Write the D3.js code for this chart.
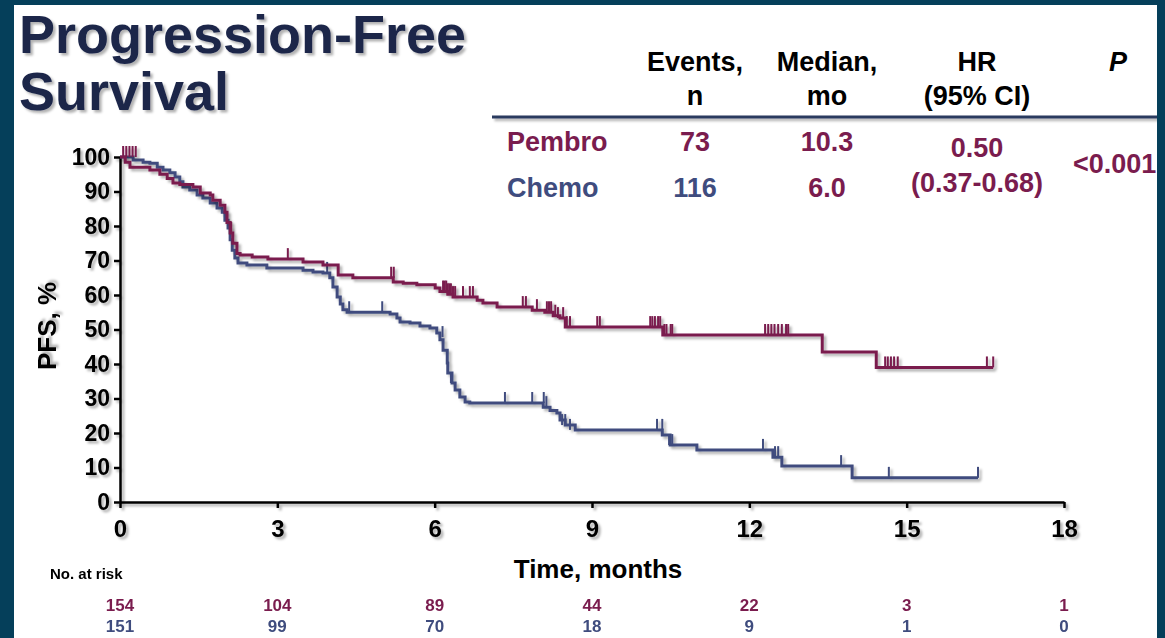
<!DOCTYPE html>
<html>
<head>
<meta charset="utf-8">
<script src="https://cdn.jsdelivr.net/npm/d3@7"></script>
<style>
  body { margin: 0; background: #ffffff; }
  svg { display: block; font-family: "Liberation Sans", Arial, sans-serif; font-weight: bold; }
</style>
</head>
<body>
<svg id="chart" width="1165" height="638"></svg>
<script>
// ---- data ----
var months = [0, 3, 6, 9, 12, 15, 18];
var pctTicks = [0, 10, 20, 30, 40, 50, 60, 70, 80, 90, 100];

// [time in months, PFS % after the step]
var pembroSteps = [[0,100],[0.10,98.5],[0.19,97],[0.57,96.2],[0.76,95],[0.90,93.8],[1.01,92.5],[1.14,92],
  [1.39,91.3],[1.53,89.6],[1.72,89],[1.77,87.5],[1.91,86],[2.00,84],[2.04,81],[2.10,78],[2.15,75],
  [2.23,72],[2.29,71.6],[2.52,71],[2.82,70.4],[3.49,69.6],[3.87,68.7],[4.16,65.8],[4.44,65],
  [5.21,63.8],[5.40,63.4],[5.66,63],[6.01,62],[6.10,61],[6.25,60.2],[6.35,59.4],[6.81,58.5],
  [6.92,57.7],[7.19,56.5],[7.86,55.6],[8.10,55],[8.26,54],[8.39,53.3],[8.49,50.7],[10.35,48.4],
  [13.39,43.5],[14.42,39],[16.65,39]];
var chemoSteps = [[0,100],[0.25,99.1],[0.44,98.5],[0.57,98.2],[0.71,97],[0.82,96.2],[0.95,95.4],
  [1.05,94.2],[1.14,92.8],[1.20,91.3],[1.33,90.4],[1.47,89],[1.58,88.1],[1.72,86.7],[1.85,85.2],
  [1.95,84],[2.00,81.7],[2.06,79.4],[2.10,76],[2.14,73],[2.19,70.7],[2.25,69.3],[2.42,68.7],
  [2.80,67.8],[3.49,67.2],[3.68,66.7],[3.87,66.4],[4.00,65],[4.06,62.3],[4.14,59.4],[4.20,57.4],
  [4.25,55.7],[4.33,55],[5.15,54.5],[5.28,53.3],[5.34,52.2],[5.53,51.9],[5.72,51],[5.91,50.4],
  [6.04,49],[6.10,47],[6.16,44],[6.24,40.3],[6.25,37.4],[6.33,34.5],[6.39,32.5],[6.48,30.4],
  [6.58,29],[6.67,28.7],[8.07,27.5],[8.20,26.5],[8.33,25.8],[8.39,23.8],[8.49,22.3],[8.68,20.9],
  [10.34,19.4],[10.49,16.5],[11.00,15.1],[12.45,13],[12.62,10.4],[13.96,7],[16.36,7]];

// censored patients [time, PFS %]
var pembroCensor = [[0.06,100],[0.12,100],[0.18,100],[0.24,100],[0.30,100],[2.12,78],[3.20,70.4],
  [5.17,65],[5.22,65],[6.16,61],[6.19,61],[6.22,61],[6.25,60.2],[6.28,60.2],[6.31,60.2],[6.35,59.4],
  [6.39,59.4],[6.54,59.4],[6.67,59.4],[6.73,59.4],[7.68,56.5],[7.74,56.5],[7.95,55.6],[8.14,55],
  [8.18,55],[8.22,55],[8.30,54],[8.35,53.3],[8.45,53.3],[8.52,50.7],[8.58,50.7],[9.10,50.7],
  [9.15,50.7],[10.11,50.7],[10.15,50.7],[10.20,50.7],[10.26,50.7],[10.30,50.7],[10.38,48.4],
  [10.42,48.4],[10.50,48.4],[10.53,48.4],[12.30,48.4],[12.36,48.4],[12.42,48.4],[12.48,48.4],
  [12.55,48.4],[12.62,48.4],[12.70,48.4],[12.74,48.4],[14.59,39],[14.64,39],[14.70,39],[14.76,39],
  [14.83,39],[16.53,39],[16.65,39]];
var chemoCensor = [[3.95,66.4],[4.37,55],[5.00,55],[6.15,47.8],[6.31,34.5],[7.34,28.7],[7.86,28.7],
  [8.08,28.7],[8.13,27.5],[8.43,22.3],[8.49,22.3],[8.58,20.9],[10.24,20.9],[10.34,20.9],
  [10.47,16.5],[10.53,16.5],[12.26,15.1],[12.49,13],[12.55,13],[13.75,10.4],[14.66,7],[16.36,7]];

var riskPembro = [154, 104, 89, 44, 22, 3, 1];
var riskChemo = [151, 99, 70, 18, 9, 1, 0];

var tableHeads = [["Events,", "n"], ["Median,", "mo"], ["HR", "(95% CI)"]];
var groups = ["Pembro", "Chemo"];
var events = ["73", "116"];
var medians = ["10.3", "6.0"];
var hrText = ["0.50", "(0.37-0.68)"];
var pText = "<0.001";

var MAROON = "#7a1c4e", BLUE = "#3f4c7e", NAVY = "#1b2549", BORDER = "#053f5a";

var svg = d3.select("#chart");

// soft drop shadow like the slide; region is wide so transformed groups are not clipped
var defs = svg.append("defs");
defs.append("filter").attr("id", "shadow").attr("filterUnits", "userSpaceOnUse")
  .attr("x", -400).attr("y", -800).attr("width", 2000).attr("height", 1800)
  .append("feDropShadow").attr("dx", 2.5).attr("dy", 2.5).attr("stdDeviation", 1.3)
  .attr("flood-color", "#000").attr("flood-opacity", 0.3);

// title
var title = svg.append("g").attr("filter", "url(#shadow)")
  .style("font-size", "54px").style("fill", NAVY);
title.append("text").attr("x", 19).attr("y", 53).text("Progression-Free");
title.append("text").attr("x", 19).attr("y", 110).text("Survival");

// table
var colX = [695, 827, 977];
var head = svg.append("g").style("font-size", "27px").style("fill", "#000").attr("text-anchor", "middle");
tableHeads.forEach(function(h, i){
  head.append("text").attr("x", colX[i]).attr("y", 71).text(h[0]);
  head.append("text").attr("x", colX[i]).attr("y", 105).text(h[1]);
});
head.append("text").attr("x", 1118).attr("y", 71).style("font-style", "italic").text("P");

svg.append("line").attr("x1", 492).attr("x2", 1165).attr("y1", 117).attr("y2", 117)
  .attr("stroke", "#2a3a5e").attr("stroke-width", 3).attr("filter", "url(#shadow)");

var rows = svg.append("g").style("font-size", "27px");
var rowY = [151, 197];
groups.forEach(function(g, i){
  var c = i === 0 ? MAROON : BLUE;
  rows.append("text").attr("x", 507).attr("y", rowY[i]).style("fill", c).text(g);
  rows.append("text").attr("x", colX[0]).attr("y", rowY[i]).attr("text-anchor", "middle").style("fill", c).text(events[i]);
  rows.append("text").attr("x", colX[1]).attr("y", rowY[i]).attr("text-anchor", "middle").style("fill", MAROON).text(medians[i]);
});
rows.append("text").attr("x", colX[2]).attr("y", 157).attr("text-anchor", "middle").style("fill", MAROON).text(hrText[0]);
rows.append("text").attr("x", colX[2]).attr("y", 192).attr("text-anchor", "middle").style("fill", MAROON).text(hrText[1]);
rows.append("text").attr("x", 1073).attr("y", 173).style("fill", MAROON).text(pText);

// scales
var x = d3.scaleLinear().domain([0, 18]).range([120, 1064]);
var y = d3.scaleLinear().domain([0, 100]).range([502, 157]);

// axes
var yAxis = svg.append("g").attr("transform", "translate(120,0)").attr("filter", "url(#shadow)")
  .call(d3.axisLeft(y).tickValues(pctTicks).tickSize(6).tickSizeOuter(0).tickPadding(4));
var xAxis = svg.append("g").attr("transform", "translate(0,502)").attr("filter", "url(#shadow)")
  .call(d3.axisBottom(x).tickValues(months).tickSize(6).tickSizeOuter(0).tickPadding(12));
[yAxis, xAxis].forEach(function(a){
  a.selectAll("path.domain").attr("stroke", "#000").attr("stroke-width", 2.5);
  a.selectAll(".tick line").attr("stroke", "#000").attr("stroke-width", 2.5);
  a.selectAll(".tick text").attr("fill", "#000")
    .style("font-family", '"Liberation Sans", Arial, sans-serif').style("font-weight", "bold");
});
yAxis.selectAll(".tick text").style("font-size", "23px");
xAxis.selectAll(".tick text").style("font-size", "24px");

svg.append("text").attr("transform", "translate(56,326) rotate(-90)").attr("text-anchor", "middle")
  .style("font-size", "26px").attr("filter", "url(#shadow)").text("PFS, %");
svg.append("text").attr("x", 598).attr("y", 578).attr("text-anchor", "middle")
  .style("font-size", "26px").text("Time, months");

// KM curves
var step = d3.line().x(function(d){ return x(d[0]); }).y(function(d){ return y(d[1]); }).curve(d3.curveStepAfter);

function drawArm(steps, censor, color){
  var g = svg.append("g").attr("filter", "url(#shadow)");
  g.append("path").datum(steps).attr("d", step).attr("fill", "none")
    .attr("stroke", color).attr("stroke-width", 3);
  g.selectAll("line.cens").data(censor).enter().append("line").attr("class", "cens")
    .attr("x1", function(d){ return x(d[0]); }).attr("x2", function(d){ return x(d[0]); })
    .attr("y1", function(d){ return y(d[1]); }).attr("y2", function(d){ return y(d[1]) - 11; })
    .attr("stroke", color).attr("stroke-width", 2);
}
drawArm(chemoSteps, chemoCensor, BLUE);
drawArm(pembroSteps, pembroCensor, MAROON);

// number at risk
svg.append("text").attr("x", 50).attr("y", 579).style("font-size", "15px").text("No. at risk");
var risk = svg.append("g").style("font-size", "17px").attr("text-anchor", "middle");
risk.selectAll("text.p").data(riskPembro).enter().append("text").attr("class", "p")
  .attr("x", function(d, i){ return x(months[i]); }).attr("y", 611).style("fill", MAROON).text(function(d){ return d; });
risk.selectAll("text.c").data(riskChemo).enter().append("text").attr("class", "c")
  .attr("x", function(d, i){ return x(months[i]); }).attr("y", 632).style("fill", BLUE).text(function(d){ return d; });

// slide frame
svg.append("rect").attr("x", 0).attr("y", 0).attr("width", 14).attr("height", 638).attr("fill", BORDER);
svg.append("rect").attr("x", 0).attr("y", 0).attr("width", 1165).attr("height", 5).attr("fill", BORDER);
svg.append("rect").attr("x", 1157).attr("y", 0).attr("width", 8).attr("height", 638).attr("fill", BORDER);
</script>
</body>
</html>
